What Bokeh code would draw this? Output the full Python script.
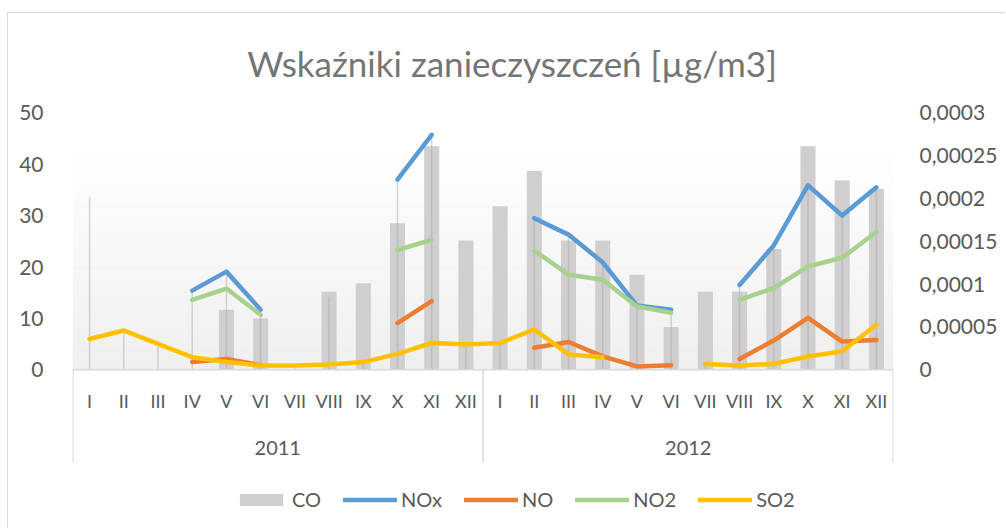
import numpy as np
from bokeh.plotting import figure
from bokeh.models import (Range1d, LinearAxis, FixedTicker, CustomJSTickFormatter,
                          BoxAnnotation, Label, Legend, LegendItem)
from bokeh.core.properties import value
from bokeh.embed import file_html
from bokeh.resources import INLINE

nan = float("nan")

title_text = "Wskaźniki zanieczyszczeń [µg/m3]"
years = ["2011", "2012"]
months = ["I", "II", "III", "IV", "V", "VI", "VII", "VIII", "IX", "X", "XI", "XII"]

# CO on the secondary axis
co = [nan, nan, nan, nan, 0.000070, 0.000060, nan, 0.000091, 0.000101, 0.000171, 0.000261, 0.000151,
      0.000191, 0.000232, 0.000151, 0.000151, 0.000111, 0.000050, 0.000091, 0.000091, 0.000141, 0.000261, 0.000221, 0.000211]
nox = [33.6, nan, nan, 15.4, 19.1, 11.7, nan, 14.1, nan, 37.0, 45.7, nan,
       nan, 29.5, 26.3, 20.9, 12.5, 11.7, nan, 16.5, 24.2, 35.9, 30.0, 35.5]
no = [nan, nan, nan, 1.5, 2.1, 0.9, nan, nan, nan, 9.1, 13.35, nan,
      nan, 4.3, 5.4, 2.6, 0.65, 0.9, nan, 2.1, 5.7, 10.1, 5.5, 5.8]
no2 = [nan, nan, nan, 13.6, 15.8, 10.7, nan, nan, nan, 23.3, 25.3, nan,
       nan, 23.2, 18.5, 17.5, 12.3, 11.1, nan, 13.6, 15.9, 20.1, 21.8, 26.8]
so2 = [6.0, 7.65, 5.05, 2.45, 1.5, 0.85, 0.85, 1.05, 1.5, 3.1, 5.25, 4.9,
       5.2, 7.85, 3.0, 2.45, nan, nan, 1.15, 0.85, 1.15, 2.6, 3.6, 8.75]
left_ticks = [0, 10, 20, 30, 40, 50]
right_ticks = [0, 0.00005, 0.0001, 0.00015, 0.0002, 0.00025, 0.0003]

n = len(months) * len(years)
xs = [i + 0.5 for i in range(n)]
month_labels = months * len(years)

# frame spans the full canvas height; 5.14 px per unit, zero at canvas y=356.3
PX = 5.14
ZERO = 356.3
H = 516
Y1 = ZERO / PX
Y0 = -(H - ZERO) / PX
ratio = right_ticks[-1] / left_ticks[-1]

def yv(canvas_y):
    return (ZERO - canvas_y) / PX

p = figure(width=998, height=H, output_backend="svg", toolbar_location=None,
           x_range=Range1d(0, n), y_range=Range1d(Y0, Y1),
           min_border_left=64, min_border_right=113, min_border_top=0, min_border_bottom=0)
p.styles = {"margin-left": "7px", "margin-top": "12px",
            "border-left": "1px solid #d9d9d9", "border-top": "1px solid #d9d9d9"}
p.outline_line_color = None
p.xgrid.visible = False
p.ygrid.visible = False
p.xaxis.visible = False
p.background_fill_color = "white"

# gradient background of the plot area
nb = 30
top_val = 44.0
for k in range(nb):
    b = top_val * k / nb
    t = top_val * (k + 1) / nb
    c = int(round(0xef + (0xff - 0xef) * (k + 0.5) / nb))
    p.add_layout(BoxAnnotation(bottom=b, top=t, fill_color="#%02x%02x%02x" % (c, c, c),
                               fill_alpha=1, line_color=None, level="underlay"))

# axes
yax = p.yaxis[0]
yax.ticker = FixedTicker(ticks=left_ticks)
yax.axis_line_color = None
yax.major_tick_line_color = None
yax.minor_tick_line_color = None
yax.major_label_text_font = "Lato"
yax.major_label_text_font_size = "21px"
yax.major_label_text_color = "#595959"
yax.major_label_standoff = 23

p.extra_y_ranges = {"co": Range1d(Y0 * ratio, Y1 * ratio)}
rax = LinearAxis(y_range_name="co", ticker=FixedTicker(ticks=right_ticks))
rax.formatter = CustomJSTickFormatter(code="""
if (tick == 0) return "0";
let s = tick.toFixed(5).replace(/0+$/, "");
return s.replace(".", ",");
""")
rax.axis_line_color = None
rax.major_tick_line_color = None
rax.minor_tick_line_color = None
rax.major_label_text_font = "Lato"
rax.major_label_text_font_size = "21px"
rax.major_label_text_color = "#595959"
rax.major_label_standoff = 20
p.add_layout(rax, "right")

# bars
r_co = p.vbar(x=xs, top=co, width=0.44, bottom=0, y_range_name="co",
              fill_color="#d0cece", line_color=None)

# drop lines
stack = np.array([nox, no, no2, so2], dtype=float)
tops = np.where(np.all(np.isnan(stack), axis=0), 0, np.nanmax(np.nan_to_num(stack, nan=-1), axis=0))
p.segment(x0=xs, y0=[0] * n, x1=xs, y1=tops, line_color="#a6a6a6", line_alpha=0.45, line_width=1.5)

# lines
lw = 4.5
r_nox = p.line(xs, nox, line_color="#5b9bd5", line_width=lw, line_cap="round", line_join="round")
r_no = p.line(xs, no, line_color="#ed7d31", line_width=lw, line_cap="round", line_join="round")
r_no2 = p.line(xs, no2, line_color="#a9d18e", line_width=lw, line_cap="round", line_join="round")
r_so2 = p.line(xs, so2, line_color="#ffc000", line_width=lw, line_cap="round", line_join="round")

# category axis box
box_bottom = yv(449)
p.segment(x0=[0], y0=[0], x1=[n], y1=[0], line_color="#d9d9d9", line_width=1.5)
p.segment(x0=[0.01, n / 2, n - 0.01], y0=[0, 0, 0], x1=[0.01, n / 2, n - 0.01],
          y1=[box_bottom] * 3, line_color="#d9d9d9", line_width=1.5)

# month and year labels
p.text(x=xs, y=[yv(387)] * n, text=month_labels, text_align="center", text_baseline="middle",
       text_font=value("Lato"), text_font_size="18px", text_color="#595959")
p.text(x=[len(months) * (j + 0.5) for j in range(len(years))], y=[yv(434)] * len(years), text=years,
       text_align="center", text_baseline="middle",
       text_font=value("Lato"), text_font_size="20px", text_color="#595959")

# title
p.add_layout(Label(x=n / 2 + 0.85, y=yv(49), text=title_text, text_align="center", text_baseline="middle",
                   text_font="Lato", text_font_size="35px", text_color="#757575"))

legend = Legend(items=[LegendItem(label="CO", renderers=[r_co]),
                       LegendItem(label="NOx", renderers=[r_nox]),
                       LegendItem(label="NO", renderers=[r_no]),
                       LegendItem(label="NO2", renderers=[r_no2]),
                       LegendItem(label="SO2", renderers=[r_so2])],
                orientation="horizontal", location=(162, 18),
                glyph_width=54, glyph_height=15, label_standoff=4, spacing=22,
                padding=0, margin=0, border_line_color=None, background_fill_alpha=0,
                label_text_font="Lato", label_text_font_size="20px", label_text_color="#595959")
p.add_layout(legend)

open("out.html", "w").write(file_html(p, INLINE))
